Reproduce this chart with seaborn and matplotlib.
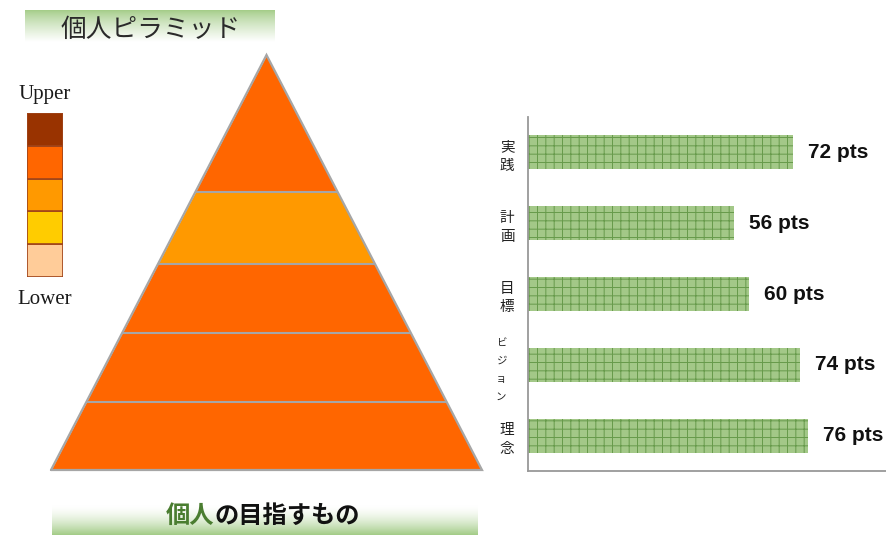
import numpy as np
import matplotlib
matplotlib.use("Agg")
import matplotlib.pyplot as plt
import matplotlib.transforms as mtransforms
import seaborn as sns
import pandas as pd

# ---------------- data ----------------
categories = ["実践", "計画", "目標", "ビジョン", "理念"]
values = [72, 56, 60, 74, 76]
value_suffix = " pts"

layer_bounds = [0.0, 0.164, 0.330, 0.496, 0.670, 1.0]   # pyramid layers, bottom -> top
layer_colors = ["#FF6600", "#FF6600", "#FF6600", "#FF9900", "#FF6600"]

legend_colors = ["#FFCC99", "#FFCC00", "#FF9900", "#FF6600", "#993300"]  # bottom -> top
legend_top_label = "Upper"
legend_bottom_label = "Lower"

title_text = "個人ピラミッド"
footer_green = "個人"
footer_rest = "の目指すもの"

# ---------------- style ----------------
sns.set_theme(style="white")
plt.rcParams["font.family"] = ["Noto Sans CJK JP", "DejaVu Sans"]
plt.rcParams["hatch.linewidth"] = 0.7

W, H = 887, 535
fig = plt.figure(figsize=(W / 100, H / 100), dpi=100)
fig.patch.set_facecolor("white")


def px_axes(x0, y0, x1, y1, **kw):
    """axes from pixel box (top-left origin)"""
    return fig.add_axes([x0 / W, 1 - y1 / H, (x1 - x0) / W, (y1 - y0) / H], **kw)


# ---------------- title gradient boxes ----------------
green = np.array([0.64, 0.80, 0.53])
white = np.array([1.0, 1.0, 1.0])

axt = px_axes(25, 10, 275, 42)
t = np.linspace(0, 1, 64)[:, None]
tt = t ** 0.8
grad = np.clip(green[None, :] * (1 - tt) + white[None, :] * tt, 0, 1)
axt.imshow(grad[:, None, :].repeat(4, axis=1), aspect="auto", extent=[0, 1, 0, 1], origin="upper")
axt.set_axis_off()
fig.text(151 / W, 1 - 30 / H, title_text, ha="center", va="center", fontsize=18.5,
         color="#2a2a2a", fontweight="normal")

axb = px_axes(52, 505, 478, 535)
tb = t ** 1.6
grad2 = np.clip(white[None, :] * (1 - tb) + green[None, :] * tb, 0, 1)
axb.imshow(grad2[:, None, :].repeat(4, axis=1), aspect="auto", extent=[0, 1, 0, 1], origin="upper")
axb.set_axis_off()
split_x = 214 / W
fig.text(split_x, 1 - 516 / H, footer_green, ha="right", va="center", fontsize=17.5,
         fontweight="bold", color="#4A7D30")
fig.text(split_x, 1 - 516 / H, footer_rest, ha="left", va="center", fontsize=17.5,
         fontweight="bold", color="#111111")

# ---------------- legend column ----------------
axl = px_axes(27, 113, 63, 277)
for i, c in enumerate(legend_colors):
    axl.bar(0, 1, bottom=i, width=1, color=c, edgecolor="#A0441A", linewidth=1.2)
axl.set_xlim(-0.5, 0.5)
axl.set_ylim(0, len(legend_colors))
axl.set_axis_off()
fig.text(45 / W, 1 - 95 / H, legend_top_label, ha="center", va="center", fontsize=15,
         family="Liberation Serif", color="#1a1a1a")
fig.text(45 / W, 1 - 300 / H, legend_bottom_label, ha="center", va="center", fontsize=15,
         family="Liberation Serif", color="#1a1a1a")

# ---------------- pyramid ----------------
axp = px_axes(51, 55, 482, 470)
edge = "#A6A6A6"
for lo, hi, c in zip(layer_bounds[:-1], layer_bounds[1:], layer_colors):
    yy = np.array([lo, hi])
    axp.fill_betweenx(yy, -(1 - yy), (1 - yy), color=c, linewidth=0)
for b in layer_bounds[1:-1]:
    axp.hlines(b, -(1 - b), (1 - b), color=edge, linewidth=1.5)
axp.plot([-1, 0, 1, -1], [0, 1, 0, 0], color=edge, linewidth=1.6, clip_on=False,
         solid_joinstyle="miter")
axp.set_xlim(-1, 1)
axp.set_ylim(0, 1)
axp.set_axis_off()

# ---------------- bar chart ----------------
ax = px_axes(528, 117, 887, 471)
df = pd.DataFrame({"cat": categories, "val": values})
sns.barplot(data=df, x="val", y="cat", orient="h", width=0.48, color="#A3C888",
            saturation=1, ax=ax)
for p in ax.patches:
    p.set_hatch("++")
    p.set_edgecolor("#679A4B")
    p.set_linewidth(0)

for i, v in enumerate(values):
    ax.text(v + 4, i, f"{v}{value_suffix}", va="center", ha="left", fontsize=15,
            fontweight="bold", family="Liberation Sans", color="#111111", clip_on=False)

ax.set_xlim(0, 97.5)
ax.set_ylim(len(categories) - 0.5, -0.5)
ax.set_xlabel("")
ax.set_ylabel("")
ax.set_xticks([])
ax.set_yticks(range(len(categories)))
ax.set_yticklabels(["\n".join(c) for c in categories], linespacing=1.45, fontsize=10.5,
                   color="#222222", ha="center")
ax.tick_params(axis="y", which="major", length=0, pad=15)
ax.set_yticks([i + 0.5 for i in range(len(categories))], minor=True)
ax.tick_params(axis="y", which="minor", length=4, width=1, color="#999999", direction="out")
shift = mtransforms.ScaledTranslation(-6 / 100, 0, fig.dpi_scale_trans)
for lbl in ax.get_yticklabels():
    if len(lbl.get_text().replace("\n", "")) > 2:
        lbl.set_fontsize(7.5)
        lbl.set_linespacing(2.0)
        lbl.set_transform(lbl.get_transform() + shift)
for s in ["top", "right"]:
    ax.spines[s].set_visible(False)
for s in ["left", "bottom"]:
    ax.spines[s].set_color("#999999")
    ax.spines[s].set_linewidth(1.3)
ax.set_facecolor("white")
ax.patch.set_alpha(0)

fig.savefig("out.png", dpi=100, facecolor="white")
